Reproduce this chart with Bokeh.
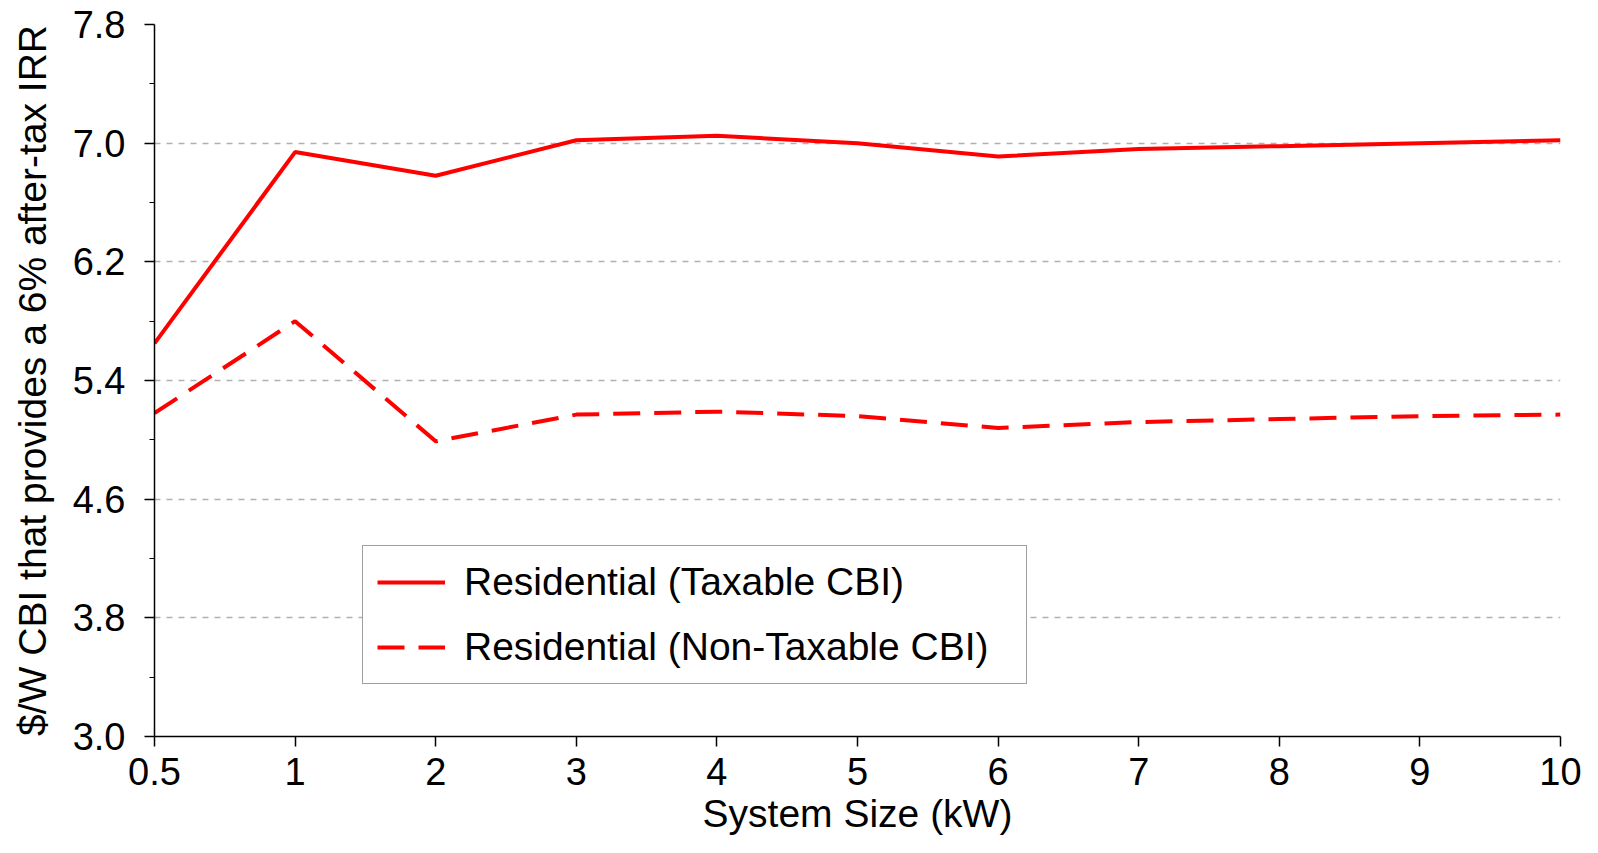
from bokeh.plotting import figure
from bokeh.models import (Range1d, FixedTicker, Legend, LegendItem, ColumnDataSource)
from bokeh.embed import file_html
from bokeh.resources import INLINE

# ---- data ----
x_labels = ["0.5", "1", "2", "3", "4", "5", "6", "7", "8", "9", "10"]
taxable = [5.65, 6.94, 6.78, 7.02, 7.05, 7.00, 6.91, 6.96, 6.98, 7.00, 7.02]
nontaxable = [5.18, 5.80, 4.99, 5.17, 5.19, 5.16, 5.08, 5.12, 5.14, 5.16, 5.17]
y_ticks = [3.0, 3.8, 4.6, 5.4, 6.2, 7.0, 7.8]
y_minor = [3.4, 4.2, 5.0, 5.8, 6.6, 7.4]
series_names = ["Residential (Taxable CBI)", "Residential (Non-Taxable CBI)"]

x_pos = list(range(len(x_labels)))
src = ColumnDataSource(dict(x=x_pos, taxable=taxable, nontaxable=nontaxable))

FONT = "Liberation Sans"
TICK_FS = "38px"
LAB_FS = "39px"

p = figure(width=1582, height=837, output_backend="svg", toolbar_location=None,
           x_range=Range1d(0, len(x_labels) - 1), y_range=Range1d(3.0, 7.8),
           min_border_left=154, min_border_right=22, min_border_top=24,
           min_border_bottom=100)
p.outline_line_color = None
p.background_fill_color = "white"

r1 = p.line("x", "taxable", source=src, line_color="#ff0000", line_width=4)
r2 = p.line("x", "nontaxable", source=src, line_color="#ff0000", line_width=4,
            line_dash="27 14")

# axes
p.xaxis.ticker = FixedTicker(ticks=x_pos)
p.xaxis.major_label_overrides = {i: lab for i, lab in zip(x_pos, x_labels)}
p.yaxis.ticker = FixedTicker(ticks=y_ticks, minor_ticks=y_minor)
p.yaxis.major_label_overrides = {v: f"{v:.1f}" for v in y_ticks}

for ax in (p.xaxis[0], p.yaxis[0]):
    ax.axis_line_color = "black"
    ax.axis_line_width = 1.5
    ax.major_tick_line_color = "black"
    ax.major_tick_line_width = 1.5
    ax.major_tick_in = 0
    ax.major_tick_out = 10
    ax.minor_tick_in = 0
    ax.major_label_text_font = FONT
    ax.major_label_text_font_size = TICK_FS
    ax.major_label_text_color = "black"
    ax.axis_label_text_font = FONT
    ax.axis_label_text_font_size = LAB_FS
    ax.axis_label_text_font_style = "normal"
    ax.axis_label_text_color = "black"

p.xaxis.minor_tick_line_color = None
p.yaxis.minor_tick_out = 5
p.yaxis.minor_tick_line_color = "black"
p.yaxis.minor_tick_line_width = 1

p.xaxis.axis_label = "System Size (kW)"
p.yaxis.axis_label = "$/W CBI that provides a 6% after-tax IRR"
p.xaxis.major_label_standoff = 11
p.xaxis.axis_label_standoff = 4
p.yaxis.major_label_standoff = 19
p.yaxis.axis_label_standoff = 16

p.xgrid.grid_line_color = None
p.ygrid.ticker = FixedTicker(ticks=y_ticks)
p.ygrid.grid_line_color = "#b0b0b0"
p.ygrid.grid_line_width = 1.5
p.ygrid.grid_line_dash = "6 6"

legend = Legend(items=[LegendItem(label=series_names[0], renderers=[r1]),
                       LegendItem(label=series_names[1], renderers=[r2])],
                location=(208, 52))
legend.label_text_font = FONT
legend.label_text_font_size = LAB_FS
legend.label_text_color = "black"
legend.glyph_width = 68
legend.glyph_height = 44
legend.label_height = 44
legend.label_width = 548
legend.label_standoff = 19
legend.spacing = 21
legend.padding = 14
legend.margin = 0
legend.border_line_color = "#404040"
legend.border_line_width = 1.5
legend.background_fill_color = "white"
legend.background_fill_alpha = 1.0
p.add_layout(legend, "center")

open("out.html", "w").write(file_html(p, INLINE))
